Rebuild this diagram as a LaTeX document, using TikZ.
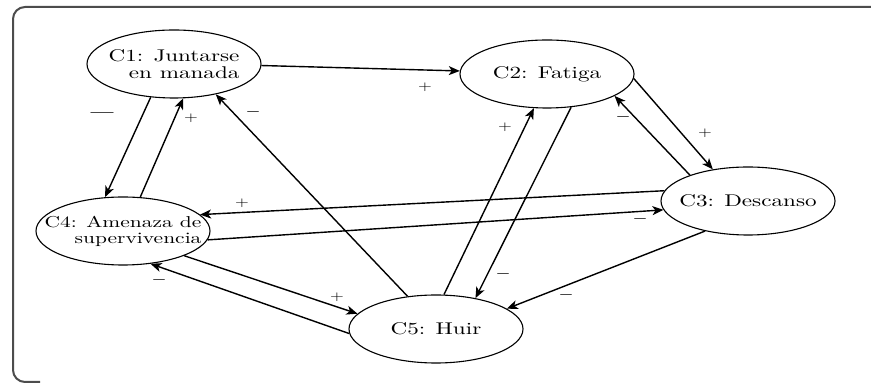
\documentclass[tikz,border=0pt]{standalone}
\usepackage{fontspec}
\newfontfamily\mapfont{lmroman10-regular.otf}[FakeStretch=1.36]
\usetikzlibrary{shapes.geometric, arrows.meta}

\begin{document}
\begin{tikzpicture}[x=0.5pt, y=-0.5pt,
  concept/.style={draw, ellipse, line width=0.55pt, minimum width=87pt, minimum height=34pt,
    inner xsep=-15pt, inner ysep=0pt, align=right, font=\mapfont\fontsize{8.5}{8.6}\selectfont},
  link/.style={-{Stealth[length=5.5pt,width=4.5pt,inset=1.5pt]}, line width=0.7pt},
  plusmark/.style={inner sep=0pt, font=\mapfont\fontsize{6.5}{7}\selectfont},
  minusmark/.style={inner sep=0pt, font=\rmfamily\bfseries\fontsize{10}{10}\selectfont},
  frame/.style={line width=1pt, gray!60!black, rounded corners=6pt}]
\useasboundingbox (0,0) rectangle (871,383);
% frame
\draw[frame] (871,7) -- (13,7) -- (13,382) -- (40,382);
% concepts
\node[concept] (c1) at (174,64) {C1: Juntarse\\en manada};
\node[concept] (c2) at (547,74) {C2: Fatiga};
\node[concept] (c3) at (748,201) {C3: Descanso};
\node[concept, font=\mapfont\fontsize{7.9}{8.1}\selectfont] (c4) at (123,231) {C4: Amenaza de\\supervivencia};
\node[concept] (c5) at (436,329) {C5: Huir};
% links
\draw[link] (c1.359) -- (c2.178);
\draw[link] (c1.235) -- (c4.118);
\draw[link] (c4.63) -- (c1.285);
\draw[link] (c5.131) -- (c1.324);
\draw[link] (c5.77) -- (c2.249);
\draw[link] (c2.306) -- (c5.38);
\draw[link] (c2.357) -- (c3.138);
\draw[link] (c3.156) -- (c2.342);
\draw[link] (c3.173) -- (c4.12);
\draw[link] (c4.354) -- (c3.186);
\draw[link] (c4.338) -- (c5.169);
\draw[link] (c5.183) -- (c4.310);
\draw[link] (c3.215) -- (c5.16);
% signs
\node[plusmark] (s12) at (425,87) {+};
\node[minusmark] (s14) at (102,116) {---};
\node[plusmark] (s41) at (191,118) {+};
\node[minusmark] (s51) at (253,115) {--};
\node[plusmark] (s52) at (505,127) {+};
\node[minusmark] (s25) at (503,277) {--};
\node[plusmark] (s23) at (705,133) {+};
\node[minusmark] (s32) at (623,120) {--};
\node[plusmark] (s34) at (242,203) {+};
\node[minusmark] (s43) at (640,222) {--};
\node[plusmark] (s45) at (337,297) {+};
\node[minusmark] (s54) at (159,283) {--};
\node[minusmark] (s35) at (566,298) {--};
\end{tikzpicture}
\end{document}
